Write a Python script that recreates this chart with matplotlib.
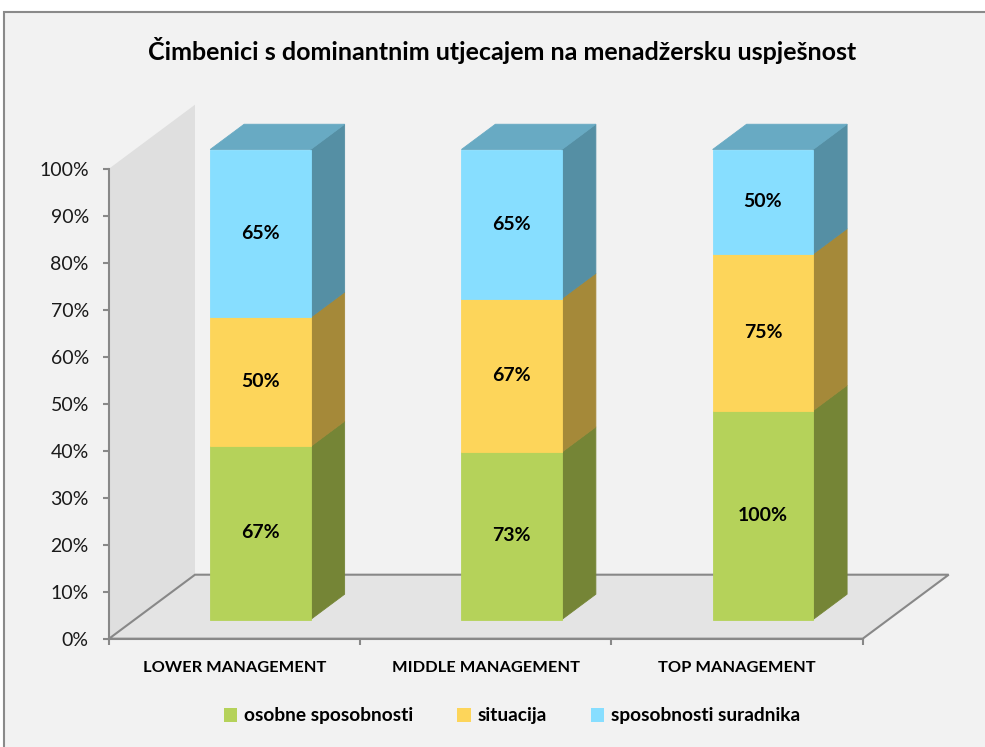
import matplotlib
matplotlib.use("Agg")
import matplotlib.pyplot as plt
from matplotlib.patches import Polygon, Rectangle, Patch
from matplotlib.ticker import FixedLocator, PercentFormatter

plt.rcParams['font.family'] = ['Lato', 'DejaVu Sans']

# ---------------- data ----------------
categories = ["LOWER MANAGEMENT", "MIDDLE MANAGEMENT", "TOP MANAGEMENT"]
series_names = ["osobne sposobnosti", "situacija", "sposobnosti suradnika"]
osobne = [67, 73, 100]
situacija = [50, 67, 75]
suradnika = [65, 65, 50]
series_values = [osobne, situacija, suradnika]
y_ticks = [0, 10, 20, 30, 40, 50, 60, 70, 80, 90, 100]

# ---------------- style ----------------
front_cols = ["#B5D25A", "#FDD55A", "#87DEFF"]
side_cols = ["#758536", "#A58939", "#558FA4"]
top_col = "#68AAC3"
wall_col = "#DFDFDF"
floor_col = "#E4E4E4"
line_col = "#888888"
bg_col = "#F2F2F2"

W, H, DPI = 985, 747, 100
fig = plt.figure(figsize=(W / DPI, H / DPI), dpi=DPI, facecolor="white")

# chart area background with border
fig.add_artist(Rectangle((4 / W, -0.05), 1.05, (H - 12) / H + 0.05,
                         transform=fig.transFigure, facecolor=bg_col,
                         edgecolor="#8A8A8A", lw=1.5, zorder=0))

# front plane axes (pixels: x 109..862.7, y 638.7..168.7 from top)
x0, x1 = 109, 862.7
yb, yt = 638.7, 168.7
ax = fig.add_axes([x0 / W, (H - yb) / H, (x1 - x0) / W, (yb - yt) / H])
ax.set_facecolor("none")
ncat = len(categories)
ax.set_xlim(0, ncat)
ax.set_ylim(0, 100)

px_x = (x1 - x0) / ncat
px_y = (yb - yt) / 100
DX = 86 / px_x      # depth vector in data units
DY = 64 / px_y

def P(x, y, d):
    return (x + d * DX, y + d * DY)

# back (left) wall
wall = Polygon([P(0, 0, 0), P(0, 100, 0), P(0, 100, 1), P(0, 0, 1)],
               closed=True, facecolor=wall_col, edgecolor="none",
               clip_on=False, zorder=1)
ax.add_patch(wall)
# floor
floor = Polygon([P(0, 0, 0), P(ncat, 0, 0), P(ncat, 0, 1), P(0, 0, 1)],
                closed=True, facecolor=floor_col, edgecolor=line_col, lw=1.5,
                clip_on=False, zorder=1)
ax.add_patch(floor)

# bars
f0, f1 = 0.30, 0.695
bw = 0.40
for i, cat in enumerate(categories):
    total = sum(s[i] for s in series_values)
    bottom = 0.0
    xl = i + 0.5 - bw / 2
    xr = i + 0.5 + bw / 2
    for k, s in enumerate(series_values):
        h = s[i] / total * 100
        top = bottom + h
        front = Polygon([P(xl, bottom, f0), P(xr, bottom, f0), P(xr, top, f0), P(xl, top, f0)],
                        closed=True, facecolor=front_cols[k], edgecolor=front_cols[k], lw=0.6,
                        clip_on=False, zorder=3)
        side = Polygon([P(xr, bottom, f0), P(xr, bottom, f1), P(xr, top, f1), P(xr, top, f0)],
                       closed=True, facecolor=side_cols[k], edgecolor=side_cols[k], lw=0.6,
                       clip_on=False, zorder=2)
        ax.add_patch(side)
        ax.add_patch(front)
        cx, cy = P(i + 0.5, bottom + h / 2, f0)
        ax.text(cx, cy, f"{s[i]}%", ha="center", va="center", fontsize=14,
                fontweight="bold", color="black", zorder=5, clip_on=False)
        bottom = top
    topface = Polygon([P(xl, 100, f0), P(xr, 100, f0), P(xr, 100, f1), P(xl, 100, f1)],
                      closed=True, facecolor=top_col, edgecolor=top_col, lw=0.6,
                      clip_on=False, zorder=2)
    ax.add_patch(topface)

# axes styling
for sp in ["top", "right"]:
    ax.spines[sp].set_visible(False)
ax.spines["left"].set_color(line_col)
ax.spines["left"].set_linewidth(1.5)
ax.spines["bottom"].set_color(line_col)
ax.spines["bottom"].set_linewidth(1.5)
ax.spines["left"].set_zorder(4)
ax.spines["bottom"].set_zorder(4)

ax.yaxis.set_major_locator(FixedLocator(y_ticks))
ax.yaxis.set_major_formatter(PercentFormatter(100, decimals=0))
ax.tick_params(axis="y", length=4.5, width=1.5, color=line_col, pad=10,
               labelsize=14, labelcolor="#1A1A1A")

ax.xaxis.set_major_locator(FixedLocator(list(range(ncat + 1))))
ax.xaxis.set_minor_locator(FixedLocator([i + 0.5 for i in range(ncat)]))
ax.set_xticklabels([], minor=False)
ax.set_xticklabels(categories, minor=True)
ax.tick_params(axis="x", which="major", length=4.5, width=1.5, color=line_col)
ax.tick_params(axis="x", which="minor", length=0, pad=16, labelsize=11.8)
for t in ax.get_xticklabels(minor=True):
    t.set_fontweight("bold")

# title
fig.text(502 / W, 1 - 51 / H, "Čimbenici s dominantnim utjecajem na menadžersku uspješnost",
         ha="center", va="center", fontsize=18, fontweight="bold", color="black")

# legend
handles = [Patch(facecolor=c, edgecolor="none") for c in front_cols]
leg = fig.legend(handles, series_names, loc="center", bbox_to_anchor=(512 / W, 1 - 716 / H),
                 ncol=3, frameon=False, handlelength=0.7, handleheight=0.7,
                 handletextpad=0.35, columnspacing=2.3,
                 prop={"weight": "bold", "size": 13.8})

fig.savefig("out.png", dpi=DPI, facecolor=fig.get_facecolor())
